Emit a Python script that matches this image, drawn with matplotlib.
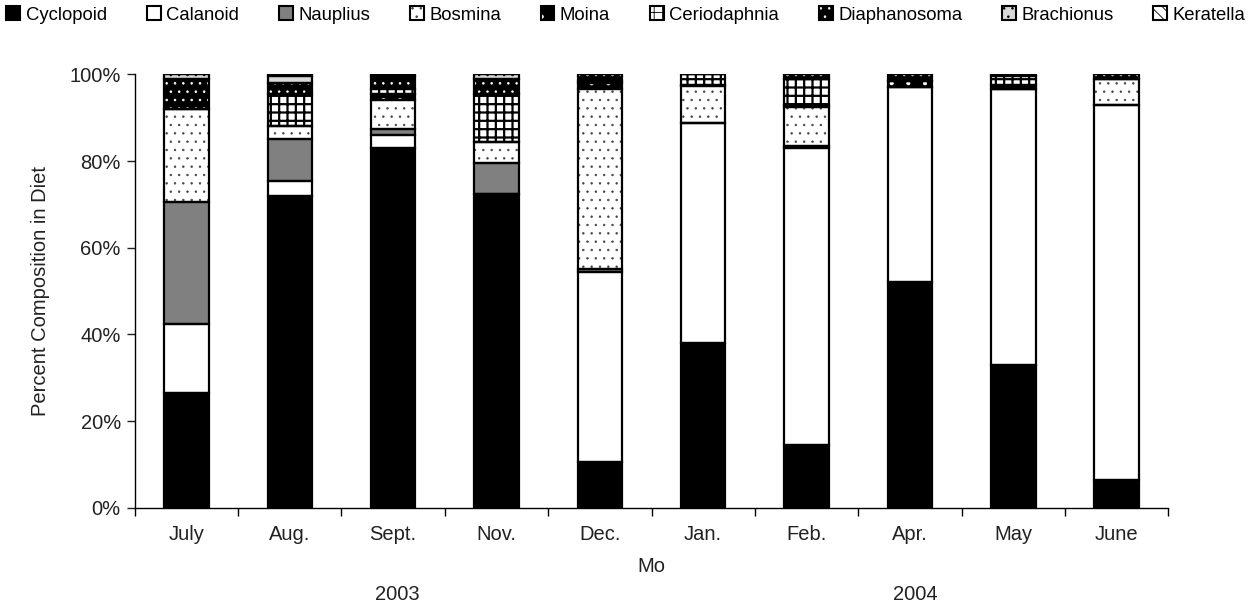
import matplotlib
matplotlib.use("Agg")
import matplotlib.pyplot as plt
import numpy as np
import matplotlib.transforms as mtrans
from matplotlib.ticker import FuncFormatter, FixedLocator
from matplotlib.patches import Patch
from matplotlib.legend_handler import HandlerTuple

plt.rcParams['font.family'] = ['Liberation Sans', 'DejaVu Sans']

months = ["July", "Aug.", "Sept.", "Nov.", "Dec.", "Jan.", "Feb.", "Apr.", "May", "June"]
years = ["2003", "2004"]

cyclopoid    = [26.5, 72.0, 83.0, 72.5, 10.5, 38.0, 14.5, 52.0, 33.0,  6.5]
calanoid     = [16.0,  3.5,  3.0,  0.0, 44.0, 50.8, 68.5, 45.0, 63.5, 86.5]
nauplius     = [28.0,  9.5,  1.5,  7.0,  0.5,  0.0,  0.5,  0.0,  0.0,  0.0]
bosmina      = [21.5,  3.0,  6.5,  5.0, 41.5,  8.5,  9.0,  0.0,  0.0,  5.8]
moina        = [ 0.0,  0.0,  1.5,  0.0,  1.5,  0.2,  0.5,  1.5,  1.0,  0.2]
ceriodaphnia = [ 0.0,  7.5,  1.0, 11.0,  0.5,  2.5,  5.8,  0.0,  2.0,  0.0]
diaphanosoma = [ 7.0,  2.5,  3.0,  3.5,  1.5,  0.0,  1.2,  1.5,  0.5,  1.0]
brachionus   = [ 1.0,  1.5,  0.5,  1.0,  0.0,  0.0,  0.0,  0.0,  0.0,  0.0]
keratella    = [ 0.0,  0.5,  0.0,  0.0,  0.0,  0.0,  0.0,  0.0,  0.0,  0.0]

series_names = ["Cyclopoid", "Calanoid", "Nauplius", "Bosmina", "Moina",
                "Ceriodaphnia", "Diaphanosoma", "Brachionus", "Keratella"]
series_vals = [cyclopoid, calanoid, nauplius, bosmina, moina,
               ceriodaphnia, diaphanosoma, brachionus, keratella]
# (face, hatch, hatch colour, hatch linewidth)
styles = [
    ("black", None, None, None),
    ("white", None, None, None),
    ("#808080", None, None, None),
    ("white", "..", "#444444", 0.5),
    ("black", ".", "white", 0.5),
    ("white", "++", "black", 1.6),
    ("black", "..", "white", 0.6),
    ("#d8d8d8", "..", "black", 0.6),
    ("white", "\\\\\\", "black", 1.0),
]

fig = plt.figure(figsize=(12.59, 6.04), dpi=100)
ax = fig.add_axes([0.107, 0.159, 0.821, 0.718])


def set_hlw(patches, lw):
    for p in patches:
        try:
            p.set_hatch_linewidth(lw)
        except Exception:
            pass


x = np.arange(len(months))
width = 0.43
bottom = np.zeros(len(months))
handles = []
for name, vals, (fc, hatch, hc, hlw) in zip(series_names, series_vals, styles):
    vals = np.array(vals, dtype=float)
    if hatch:
        with plt.rc_context({'hatch.linewidth': hlw}):
            bars = ax.bar(x, vals, width, bottom=bottom, color=fc, edgecolor=hc,
                          hatch=hatch, linewidth=0, zorder=2)
            h = Patch(facecolor=fc, edgecolor=hc, hatch=hatch, linewidth=0)
        set_hlw(bars.patches, hlw)
        set_hlw([h], hlw)
        h2 = Patch(facecolor="none", edgecolor="black", linewidth=1.5)
        handles.append((h, h2))
    else:
        ax.bar(x, vals, width, bottom=bottom, color=fc, linewidth=0, zorder=2)
        handles.append(Patch(facecolor=fc, edgecolor="black", linewidth=1.5))
    ax.bar(x, vals, width, bottom=bottom, fill=False, edgecolor="black",
           linewidth=1.6, zorder=3)
    bottom += vals

ax.set_xlim(-0.5, len(months) - 0.5)
ax.set_ylim(0, 100)
ax.set_yticks([0, 20, 40, 60, 80, 100])
ax.yaxis.set_major_formatter(FuncFormatter(lambda v, p: f"{int(v)}%"))
ax.set_xticks(x)
ax.set_xticklabels(months)
ax.xaxis.set_minor_locator(FixedLocator(np.arange(-0.5, len(months), 1.0)))
ax.tick_params(axis="x", which="major", length=0, pad=12, labelsize=14.5, colors="#222222")
ax.tick_params(axis="x", which="minor", length=6, width=1, direction="out")
ax.tick_params(axis="y", length=6, width=1, direction="out", labelsize=14.5, colors="#222222", pad=4)
for s in ["top", "right"]:
    ax.spines[s].set_visible(False)
ax.spines["left"].set_linewidth(1)
ax.spines["bottom"].set_linewidth(1)

ax.set_ylabel("Percent Composition in Diet", fontsize=14.5, color="#222222", labelpad=14)
ax.text(0.5, -0.135, "Mo", transform=ax.transAxes, ha="center", va="center",
        fontsize=14.5, color="#222222")
trans = mtrans.blended_transform_factory(ax.transData, ax.transAxes)
ax.text(2.04, -0.2, years[0], transform=trans, ha="center", va="center", fontsize=14.5, color="#222222")
ax.text(7.05, -0.2, years[1], transform=trans, ha="center", va="center", fontsize=14.5, color="#222222")

with plt.rc_context({'hatch.linewidth': 0.6}):
    leg = fig.legend(handles, series_names, loc="upper left", bbox_to_anchor=(0.0, 1.0),
                     ncol=9, frameon=False, fontsize=13.3, handlelength=0.75, handleheight=0.75,
                     handletextpad=0.3, columnspacing=2.15, borderaxespad=0.1, borderpad=0.25,
                     handler_map={tuple: HandlerTuple(ndivide=1)})

fig.savefig("out.png", dpi=100)
